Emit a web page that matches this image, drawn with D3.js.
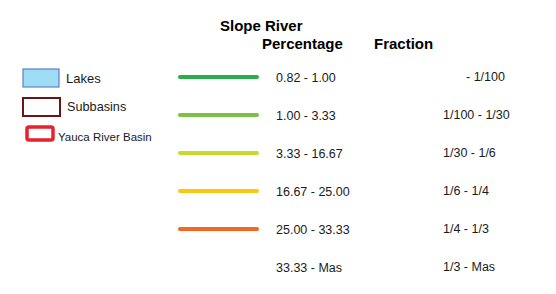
<html>
<meta charset="utf-8">
<head>
<script src="https://d3js.org/d3.v7.min.js"></script>
</head>
<body style="margin:0;background-color:#ffffff">
<div id="legend"></div>
<script>

// legend data
var percentages = ["0.82 - 1.00", "1.00 - 3.33", "3.33 - 16.67", "16.67 - 25.00", "25.00 - 33.33", "33.33 - Mas"];
var fractions = ["- 1/100", "1/100 - 1/30", "1/30 - 1/6", "1/6 - 1/4", "1/4 - 1/3", "1/3 - Mas"];
var layers = ["Lakes", "Subbasins", "Yauca River Basin"];

var width = 556, height = 294;

var svg = d3.select("#legend")
  .append("svg")
    .attr("width", width)
    .attr("height", height)
    .style("font-family", "Liberation Sans, Arial, sans-serif");

// rows of the slope legend
var y = d3.scalePoint()
  .domain(percentages)
  .range([77, 267]);

var color = d3.scaleOrdinal()
  .domain(percentages)
  .range(["#2aae4a", "#7cc242", "#c9d929", "#fcc70d", "#f26722", "none"]);

svg.append("text")
  .attr("x", 220).attr("y", 31)
  .style("font-weight", "bold").style("font-size", "15px")
  .text("Slope River");
svg.append("text")
  .attr("x", 262).attr("y", 49)
  .style("font-weight", "bold").style("font-size", "15px")
  .text("Percentage");
svg.append("text")
  .attr("x", 374).attr("y", 49)
  .style("font-weight", "bold").style("font-size", "15px")
  .text("Fraction");

svg.selectAll("myline")
  .data(percentages)
  .enter()
  .append("line")
    .attr("x1", 180)
    .attr("x2", 257)
    .attr("y1", function(d) { return y(d); })
    .attr("y2", function(d) { return y(d); })
    .attr("stroke", function(d) { return color(d); })
    .attr("stroke-width", 4)
    .attr("stroke-linecap", "round");

svg.selectAll("pct")
  .data(percentages)
  .enter()
  .append("text")
    .attr("x", 276)
    .attr("y", function(d) { return y(d) + 5; })
    .style("font-size", "12.5px")
    .style("fill", "#1a1a1a")
    .text(function(d) { return d; });

svg.selectAll("frac")
  .data(fractions)
  .enter()
  .append("text")
    .attr("x", function(d, i) { return i == 0 ? 466 : 443; })
    .attr("y", function(d, i) { return y(percentages[i]) + 4; })
    .style("font-size", "12.5px")
    .style("fill", "#1a1a1a")
    .text(function(d) { return d; });

// map layers on the left
var boxes = [
  {x: 23, y: 69, w: 36, h: 18, fill: "#9ddcf3", stroke: "#5b80c6", sw: 1.2, tx: 66, ty: 83, fs: "13px"},
  {x: 23, y: 98, w: 37, h: 18, fill: "none", stroke: "#6e1414", sw: 2, tx: 67, ty: 111, fs: "12.7px"},
  {x: 27, y: 127, w: 26, h: 13, fill: "none", stroke: "#e8212b", sw: 3.5, tx: 58, ty: 141, fs: "11.5px"}
];

svg.selectAll("box")
  .data(layers)
  .enter()
  .append("rect")
    .attr("x", function(d, i) { return boxes[i].x; })
    .attr("y", function(d, i) { return boxes[i].y; })
    .attr("width", function(d, i) { return boxes[i].w; })
    .attr("height", function(d, i) { return boxes[i].h; })
    .attr("rx", function(d, i) { return i == 2 ? 2 : 0; })
    .style("fill", function(d, i) { return boxes[i].fill; })
    .attr("stroke", function(d, i) { return boxes[i].stroke; })
    .attr("stroke-width", function(d, i) { return boxes[i].sw; });

svg.selectAll("lbl")
  .data(layers)
  .enter()
  .append("text")
    .attr("x", function(d, i) { return boxes[i].tx; })
    .attr("y", function(d, i) { return boxes[i].ty; })
    .style("font-size", function(d, i) { return boxes[i].fs; })
    .style("fill", "#1a1a1a")
    .text(function(d) { return d; });

</script>
</body>
</html>
